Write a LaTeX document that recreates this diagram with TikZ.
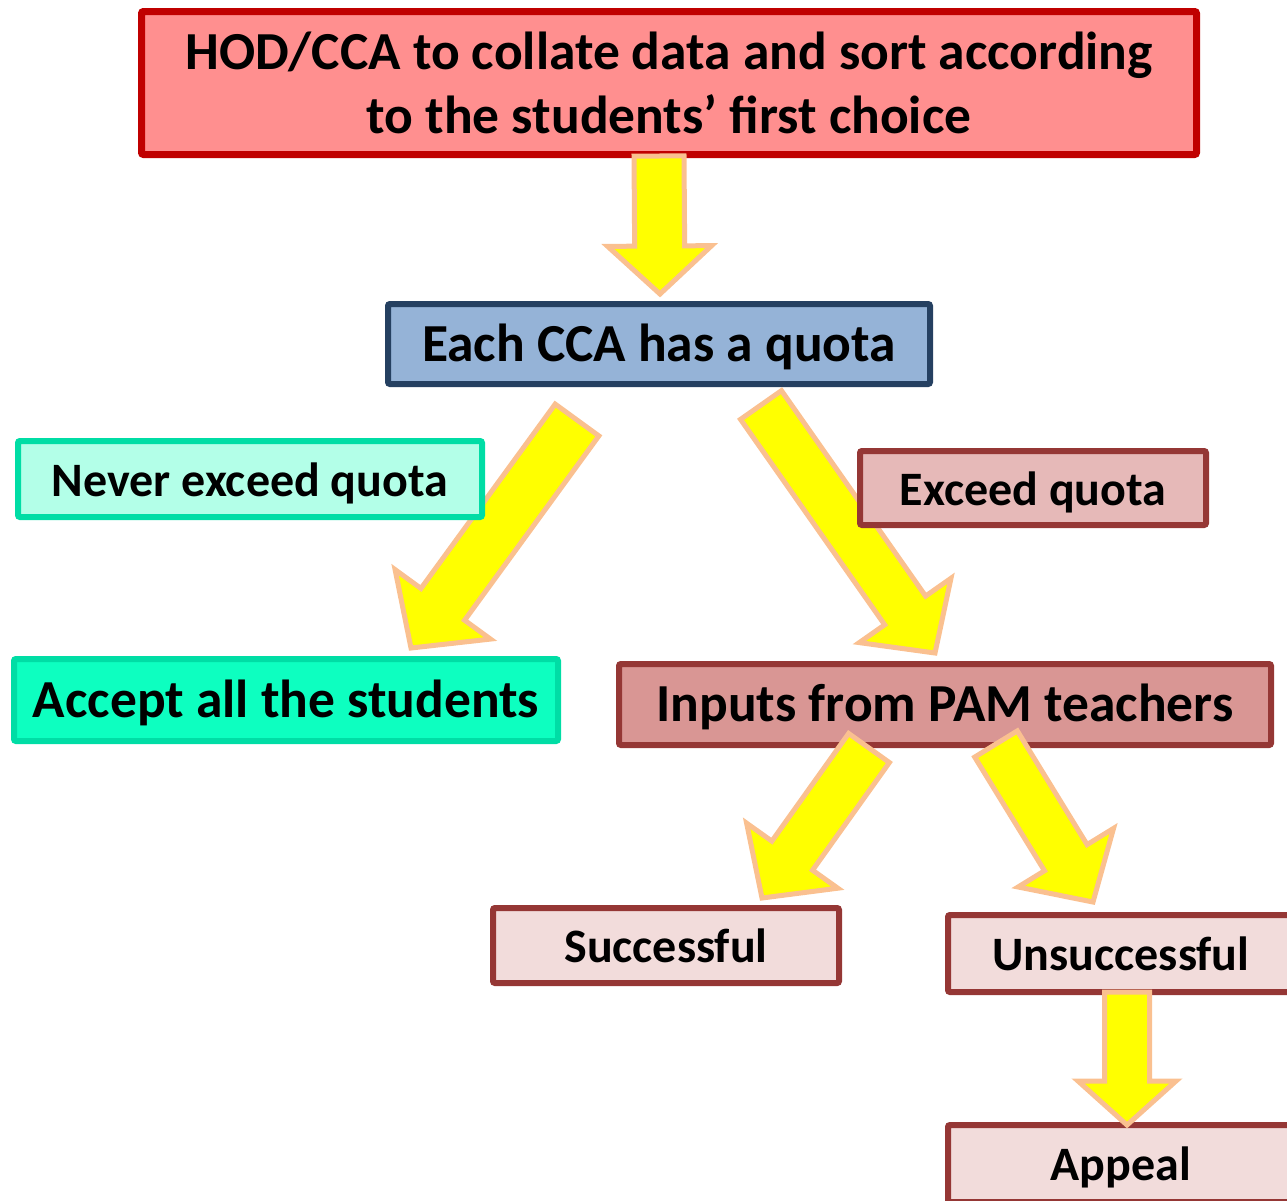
\documentclass[tikz,border=0pt]{standalone}
\usepackage{fontspec}
\setmainfont{Carlito}
\usetikzlibrary{calc}
\definecolor{topfill}{HTML}{FF8F8F}
\definecolor{topline}{HTML}{C00000}
\definecolor{bluefill}{HTML}{95B3D7}
\definecolor{blueline}{HTML}{254061}
\definecolor{mintfill}{HTML}{B3FFE8}
\definecolor{mintline}{HTML}{00DDA5}
\definecolor{aquafill}{HTML}{0DFFC0}
\definecolor{rosefill}{HTML}{E6B9B8}
\definecolor{redline}{HTML}{953735}
\definecolor{inpfill}{HTML}{D99694}
\definecolor{palefill}{HTML}{F2DCDB}
\definecolor{arrline}{HTML}{FAC090}
\definecolor{arrfill}{HTML}{FFFF00}
\tikzset{
  box/.style={draw, line width=6pt, rounded corners=2pt, inner sep=0pt,
    align=center, text height=40pt, text depth=6pt,
    font=\bfseries\fontsize{53.5}{64}\selectfont},
  smalltext/.style={font=\bfseries\fontsize{48}{58}\selectfont},
  blockarrow/.style={draw=arrline, fill=arrfill, line width=5pt, line join=miter}
}
% #1 tail, #2 tip, #3 half shaft width, #4 half head width, #5 head length
\newcommand\blockarr[5]{%
  \coordinate (ba-c) at ($(#2)!#5!(#1)$);
  \draw[blockarrow] ($(#1)!#3!90:(#2)$) -- ($(ba-c)!#3!90:(#2)$)
    -- ($(ba-c)!#4!90:(#2)$) -- (#2) -- ($(ba-c)!#4!-90:(#2)$)
    -- ($(ba-c)!#3!-90:(#2)$) -- ($(#1)!#3!-90:(#2)$) -- cycle;
}
\begin{document}
\begin{tikzpicture}[x=1pt,y=-1pt]
\useasboundingbox (0,0) rectangle (1287,1200);
\clip (0,0) rectangle (1287,1200);

% main boxes
\node[box, line width=7pt, draw=topline, fill=topfill, minimum width=1055pt, minimum height=143pt,
  text height=104pt, text depth=4pt]
  (hod) at (669,83) {HOD/CCA to collate data and sort according\\to the students’ first choice};
\node[box, draw=blueline, fill=bluefill, minimum width=542pt, minimum height=80pt]
  (each) at (659,344) {Each CCA has a quota};
\node[box, draw=mintline, fill=aquafill, minimum width=544pt, minimum height=82pt]
  (accept) at (286,700) {Accept all the students};
\node[box, draw=redline, fill=inpfill, minimum width=652pt, minimum height=81pt]
  (inputs) at (945,704.5) {Inputs from PAM teachers};
\node[box, smalltext, draw=redline, fill=palefill, minimum width=346pt, minimum height=75pt]
  (succ) at (666,945.5) {Successful};
\node[box, smalltext, draw=redline, fill=palefill, minimum width=346pt, minimum height=77pt]
  (unsucc) at (1121,953.5) {Unsuccessful};
\node[box, smalltext, draw=redline, fill=palefill, minimum width=346pt, minimum height=77pt]
  (appeal) at (1121,1163.5) {Appeal};

% arrow end points
\coordinate (a1s) at (659,156);   \coordinate (a1e) at (660,294);
\coordinate (a2s) at (577,420);   \coordinate (a2e) at (411,648);
\coordinate (a3s) at (761,405);   \coordinate (a3e) at (935,653);
\coordinate (a4s) at (869,748);   \coordinate (a4e) at (762,898);
\coordinate (a5s) at (996,744);   \coordinate (a5e) at (1093,902);
\coordinate (a6s) at (1127,992);  \coordinate (a6e) at (1127,1125);

\blockarr{a1s}{a1e}{25pt}{52pt}{48pt}
\blockarr{a2s}{a2e}{27pt}{59pt}{54pt}
\blockarr{a3s}{a3e}{25pt}{56pt}{52pt}
\blockarr{a4s}{a4e}{25pt}{56pt}{52pt}
\blockarr{a5s}{a5e}{25pt}{56pt}{52pt}
\blockarr{a6s}{a6e}{22.5pt}{49pt}{44pt}

% label boxes (on top of arrows)
\node[box, smalltext, draw=mintline, fill=mintfill, minimum width=464pt, minimum height=76pt]
  (never) at (250,479) {Never exceed quota};
\node[box, smalltext, draw=redline, fill=rosefill, minimum width=346pt, minimum height=74pt]
  (exceed) at (1033,488) {Exceed quota};
\end{tikzpicture}
\end{document}
